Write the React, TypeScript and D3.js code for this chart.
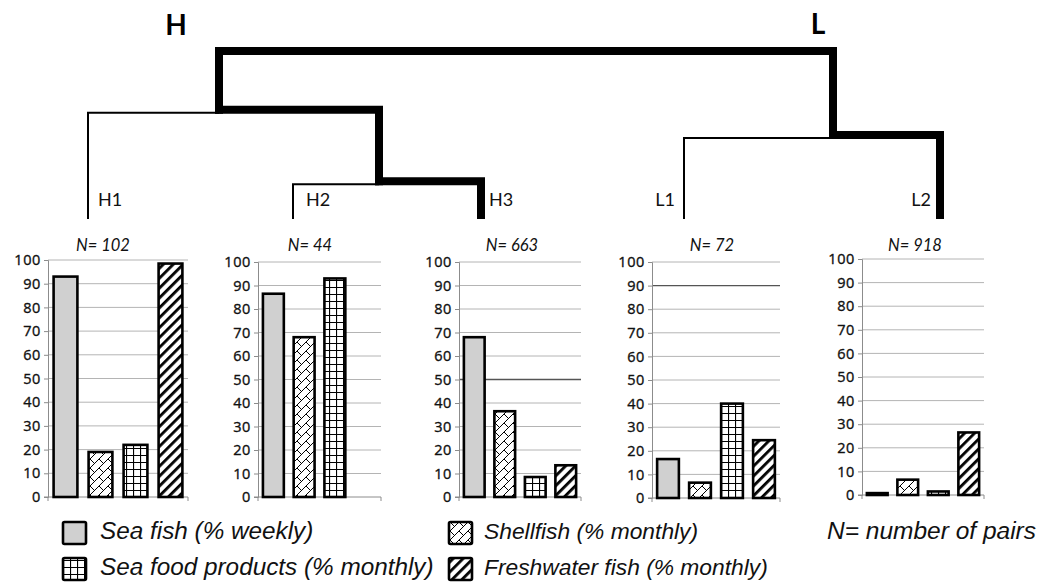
import { useEffect, useRef } from 'react';
import * as d3 from 'd3';

// ---- data ----
const groups = ['H1', 'H2', 'H3', 'L1', 'L2'];
const pairs = [102, 44, 663, 72, 918];
const categories = [
  'Sea fish (% weekly)',
  'Shellfish (% monthly)',
  'Sea food products (% monthly)',
  'Freshwater fish (% monthly)',
];
const seaFish = [93, 86.5, 68, 16.5, 0.8];
const shellfish = [19, 68, 36.5, 6.5, 6.5];
const seaFoodProducts = [22, 93, 8.5, 40, 1.5];
const freshwaterFish: (number | null)[] = [98.5, null, 13.5, 24.5, 26.5];
const yTicks = [0, 10, 20, 30, 40, 50, 60, 70, 80, 90, 100];

// dendrogram: cluster tree with merge heights (arbitrary units)
const clusters = ['root', 'H', 'L', 'H23', 'H1', 'H2', 'H3', 'L1', 'L2'];
const clusterParent = ['', 'root', 'root', 'H', 'H', 'H23', 'H23', 'L', 'L'];
const clusterHeight = [100, 65, 50, 22.5, 0, 0, 0, 0, 0];

// ---- layout ----
const W = 1038;
const H = 588;
const frames = [
  { x0: 48, x1: 188, top: 260, bottom: 497, titleX: 103 },
  { x0: 258, x1: 381, top: 262, bottom: 497, titleX: 310 },
  { x0: 459, x1: 581, top: 262, bottom: 497, titleX: 512 },
  { x0: 652, x1: 780, top: 262, bottom: 498, titleX: 712 },
  { x0: 862, x1: 984, top: 259, bottom: 495, titleX: 915 },
];
const darkGridline = [null, null, 50, 90, null];
const nodeX: Record<string, number> = {
  root: 526, H: 219, L: 833, H23: 379, H1: 88, H2: 293, H3: 481, L1: 684, L2: 940,
};
const leafLabel: Record<string, { dx: number; anchor: string }> = {
  H1: { dx: 10, anchor: 'start' },
  H2: { dx: 13, anchor: 'start' },
  H3: { dx: 8, anchor: 'start' },
  L1: { dx: -9, anchor: 'end' },
  L2: { dx: -9, anchor: 'end' },
};
const fills = ['#d0d0d0', 'url(#brick)', 'url(#grid)', 'url(#stripes)'];

const sans = "'Liberation Sans', Arial, sans-serif";
const humanist = "Lato, 'Open Sans', sans-serif";

export default function App() {
  const svgRef = useRef<SVGSVGElement>(null);

  useEffect(() => {
    if (!svgRef.current) return;
    const svg = d3.select(svgRef.current);
    svg.selectAll('*').remove();

    // patterns
    const defs = svg.append('defs');
    const grid = defs.append('pattern').attr('id', 'grid').attr('patternUnits', 'userSpaceOnUse')
      .attr('width', 7).attr('height', 7);
    grid.append('rect').attr('width', 7).attr('height', 7).attr('fill', '#fff');
    grid.append('path').attr('d', 'M0,0.5H7M0.5,0V7').attr('stroke', '#000').attr('stroke-width', 1.2);

    const stripes = defs.append('pattern').attr('id', 'stripes').attr('patternUnits', 'userSpaceOnUse')
      .attr('width', 7).attr('height', 7).attr('patternTransform', 'rotate(45)');
    stripes.append('rect').attr('width', 7).attr('height', 7).attr('fill', '#fff');
    stripes.append('rect').attr('width', 2.8).attr('height', 7).attr('fill', '#000');

    // diagonal brick: "/" lines joined by short "\" rungs
    const brick = defs.append('pattern').attr('id', 'brick').attr('patternUnits', 'userSpaceOnUse')
      .attr('width', 9).attr('height', 9);
    brick.append('rect').attr('width', 9).attr('height', 9).attr('fill', '#fff');
    brick.append('path').attr('d', 'M-1,10L10,-1M0,0L4.5,4.5').attr('stroke', '#000').attr('stroke-width', 1)
      .attr('fill', 'none');

    // dendrogram
    const table = clusters.map((id, i) => ({
      id,
      parent: clusterParent[i] || null,
      height: clusterHeight[i],
      n: groups.includes(id) ? pairs[groups.indexOf(id)] : 0,
    }));
    const root = d3.stratify<(typeof table)[number]>().id((d) => d.id).parentId((d) => d.parent)(table);
    root.sum((d) => d.n);
    const yDen = d3.scaleLinear().domain([0, 100]).range([219, 51]);
    const den = svg.append('g');

    root.descendants().forEach((node) => {
      if (!node.parent) return;
      const siblings = node.parent.children ?? [];
      // main split is drawn heavy; below it the branch with more pairs is heavy
      const thick = !node.parent.parent || (node.value ?? 0) >= d3.max(siblings, (s) => s.value ?? 0)!;
      const w = thick ? 8 : 2;
      const px = nodeX[node.parent.id!];
      const py = yDen(node.parent.data.height) + (thick ? 0 : 3);
      const cx = nodeX[node.id!];
      const isLeaf = !node.children;
      const cy = isLeaf ? (thick ? yDen(0) - w / 2 : yDen(0)) : yDen(node.data.height);
      den.append('path')
        .attr('d', `M${px},${py}H${cx}V${cy}`)
        .attr('fill', 'none')
        .attr('stroke', '#000')
        .attr('stroke-width', w)
        .attr('stroke-linecap', thick ? 'square' : 'butt')
        .attr('stroke-linejoin', 'miter');
      if (isLeaf) {
        const lab = leafLabel[node.id!];
        den.append('text')
          .attr('x', cx + lab.dx)
          .attr('y', 206)
          .attr('text-anchor', lab.anchor)
          .attr('font-family', humanist)
          .attr('font-size', 18)
          .attr('fill', '#111')
          .text(node.id!);
      }
    });

    den.append('text').attr('x', 176).attr('y', 35).attr('text-anchor', 'middle')
      .attr('font-family', humanist).attr('font-weight', 'bold').attr('font-size', 28).text('H');
    den.append('text').attr('x', 818).attr('y', 34).attr('text-anchor', 'middle')
      .attr('font-family', humanist).attr('font-weight', 'bold').attr('font-size', 28).text('L');

    // bar panels
    groups.forEach((g, i) => {
      const f = frames[i];
      const y = d3.scaleLinear().domain([0, 100]).range([f.bottom, f.top]);
      const x = d3.scaleBand().domain(categories).range([f.x0, f.x1]).paddingInner(0.32).paddingOuter(0.16);
      const panel = svg.append('g').attr('class', `panel-${g}`);

      // gridlines
      panel.selectAll('line.grid')
        .data(yTicks.filter((t) => t > 0))
        .join('line')
        .attr('x1', f.x0).attr('x2', f.x1)
        .attr('y1', (d) => y(d)).attr('y2', (d) => y(d))
        .attr('stroke', (d) => (d === darkGridline[i] ? '#555' : '#b4b4b4'))
        .attr('stroke-width', (d) => (d === darkGridline[i] ? 1.4 : 1));

      // axes
      const ax = panel.append('g').attr('transform', `translate(${f.x0},0)`)
        .call(d3.axisLeft(y).tickValues(yTicks).tickSize(4).tickPadding(3));
      ax.select('.domain').attr('stroke', '#8c8c8c');
      ax.selectAll('.tick line').attr('stroke', '#8c8c8c');
      ax.selectAll('.tick text')
        .attr('font-family', "'Open Sans', sans-serif")
        .attr('font-size', 14.5)
        .attr('letter-spacing', 0.6)
        .attr('fill', '#111')
        .attr('stroke', '#111')
        .attr('stroke-width', 0.35);
      panel.append('path')
        .attr('d', `M${f.x0 - 4},${f.bottom}H${f.x1}M${f.x0},${f.bottom}v4M${f.x1},${f.bottom}v4`)
        .attr('stroke', '#8c8c8c').attr('fill', 'none');

      // bars
      const vals = [seaFish[i], shellfish[i], seaFoodProducts[i], freshwaterFish[i]];
      panel.selectAll('rect.bar')
        .data(vals.map((v, k) => ({ v, k })).filter((d) => d.v !== null))
        .join('rect')
        .attr('x', (d) => x(categories[d.k])!)
        .attr('width', x.bandwidth())
        .attr('y', (d) => y(d.v as number))
        .attr('height', (d) => f.bottom - y(d.v as number))
        .attr('fill', (d) => fills[d.k])
        .attr('stroke', '#000')
        .attr('stroke-width', 2.6);

      // title
      panel.append('text')
        .attr('x', f.titleX).attr('y', 251).attr('text-anchor', 'middle')
        .attr('font-family', humanist).attr('font-style', 'italic').attr('font-size', 16.5)
        .attr('fill', '#111')
        .text(`N= ${pairs[i]}`);
    });

    // legend
    const colX = [63, 449];
    const colFont = [24.3, 22.8];
    const rowY = [522, 558];
    const legend = svg.append('g');
    categories.forEach((c, k) => {
      const col = k % 2;
      const row = Math.floor(k / 2);
      legend.append('rect')
        .attr('x', colX[col]).attr('y', rowY[row]).attr('width', 23).attr('height', 22).attr('rx', 1.5)
        .attr('fill', fills[k]).attr('stroke', '#000').attr('stroke-width', 2.6);
      legend.append('text')
        .attr('x', colX[col] + (col === 0 ? 37 : 35)).attr('y', rowY[row] + 17)
        .attr('font-family', sans).attr('font-style', 'italic').attr('font-size', colFont[col])
        .attr('fill', '#111')
        .text(c);
    });
    legend.append('text')
      .attr('x', 827).attr('y', 539)
      .attr('font-family', sans).attr('font-style', 'italic').attr('font-size', 24.5)
      .attr('fill', '#111')
      .text('N= number of pairs');
  }, []);

  return (
    <svg
      ref={svgRef}
      width={W}
      height={H}
      style={{ position: 'absolute', left: 0, top: 0, background: '#fff', display: 'block' }}
    />
  );
}
